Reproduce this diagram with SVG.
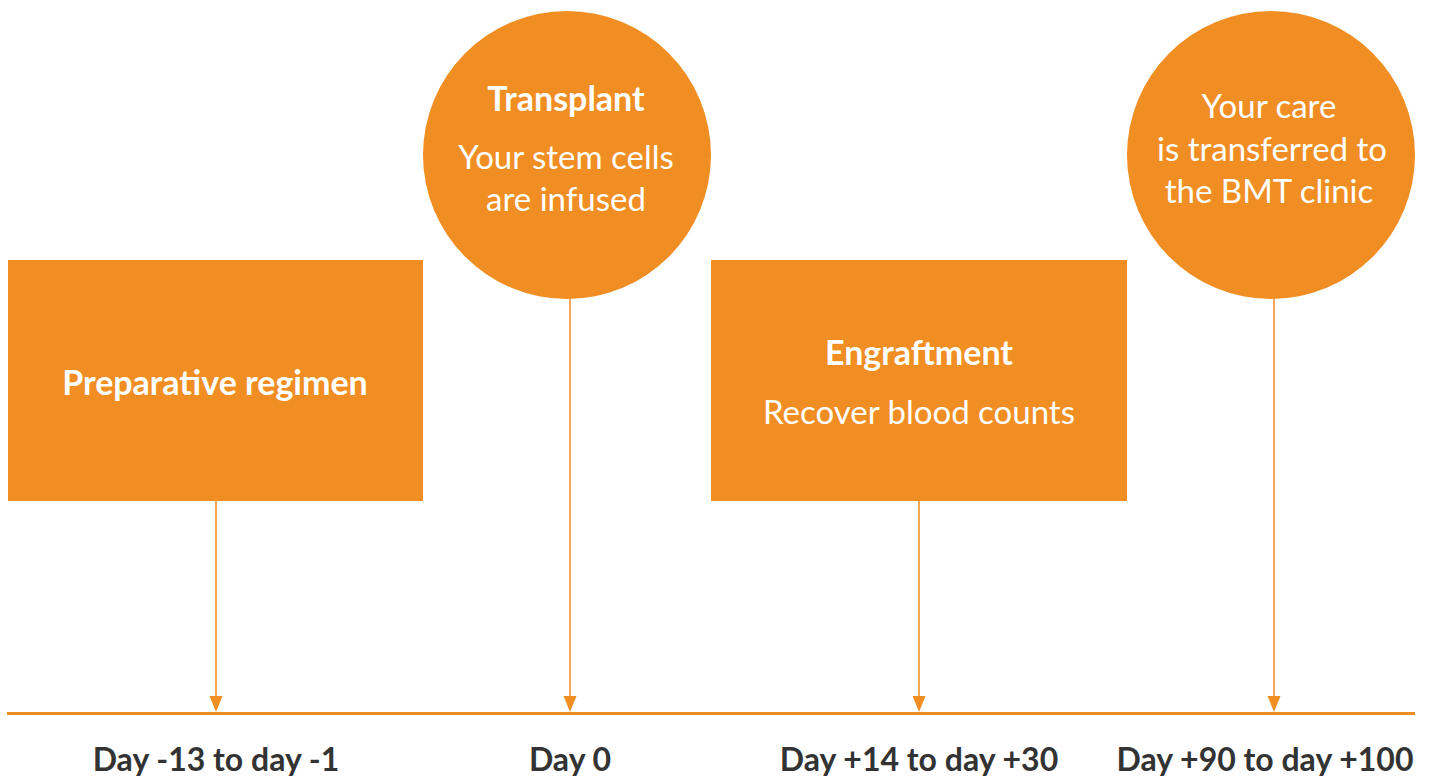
<svg xmlns="http://www.w3.org/2000/svg" width="1429" height="779" viewBox="0 0 1429 779">
<style>
.shape{fill:#F18E23}
.conn{stroke:#F18E23;stroke-width:1.5;fill:none}
.t{font-family:Lato,"Open Sans","Liberation Sans",sans-serif;fill:#fff;text-anchor:middle}
.b{font-weight:bold;font-size:34px}
.r{font-weight:normal;font-size:33px}
.lbl{font-family:Lato,"Open Sans","Liberation Sans",sans-serif;fill:#333;font-weight:bold;font-size:32px;text-anchor:middle}
</style>
<rect width="1429" height="779" fill="#fff"/>
<g id="connectors">
<line class="conn" x1="216" y1="501" x2="216" y2="697"/>
<path d="M209.5,696 L222.5,696 L216,712 Z" fill="#F18E23"/>
<line class="conn" x1="570" y1="298" x2="570" y2="697"/>
<path d="M563.5,696 L576.5,696 L570,712 Z" fill="#F18E23"/>
<line class="conn" x1="919" y1="501" x2="919" y2="697"/>
<path d="M912.5,696 L925.5,696 L919,712 Z" fill="#F18E23"/>
<line class="conn" x1="1274" y1="298" x2="1274" y2="697"/>
<path d="M1267.5,696 L1280.5,696 L1274,712 Z" fill="#F18E23"/>
<line x1="7" y1="713.5" x2="1415" y2="713.5" stroke="#F18E23" stroke-width="3"/>
</g>
<g id="preparative">
<rect class="shape" x="8" y="260" width="415" height="241"/>
<text class="t b" x="215" y="395">Preparative regimen</text>
</g>
<g id="transplant">
<circle class="shape" cx="567" cy="155" r="144"/>
<text class="t b" x="566" y="111">Transplant</text>
<text class="t r" x="566" y="169">Your stem cells</text>
<text class="t r" x="566" y="211">are infused</text>
</g>
<g id="engraftment">
<rect class="shape" x="711" y="260" width="416" height="241"/>
<text class="t b" x="919" y="365">Engraftment</text>
<text class="t r" x="919" y="424">Recover blood counts</text>
</g>
<g id="clinic">
<circle class="shape" cx="1271" cy="155" r="144"/>
<text class="t r" x="1269" y="118">Your care</text>
<text class="t r" x="1272" y="161">is transferred to</text>
<text class="t r" x="1269" y="203">the BMT clinic</text>
</g>
<g id="labels">
<text class="lbl" x="216" y="771">Day -13 to day -1</text>
<text class="lbl" x="570" y="771">Day 0</text>
<text class="lbl" x="919" y="771">Day +14 to day +30</text>
<text class="lbl" x="1265" y="771">Day +90 to day +100</text>
</g>
</svg>
